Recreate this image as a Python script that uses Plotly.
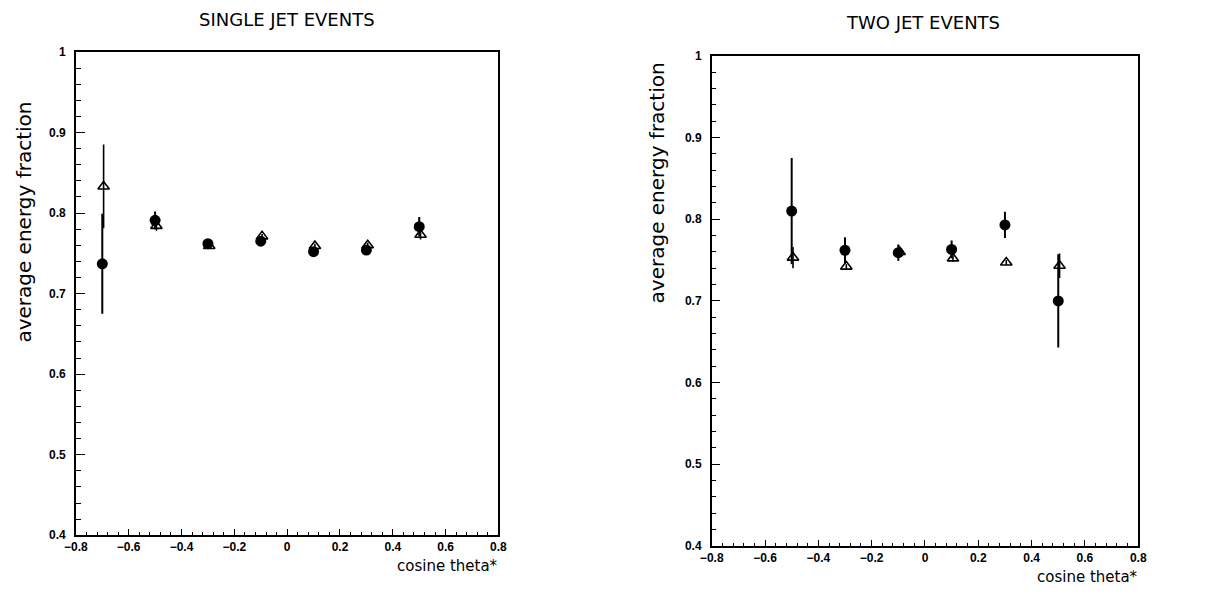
import plotly.graph_objects as go

# ---- data ----
single_x = [-0.7, -0.5, -0.3, -0.1, 0.1, 0.3, 0.5]
single_circ = [0.737, 0.791, 0.762, 0.765, 0.752, 0.754, 0.783]
single_circ_err = [0.062, 0.011, 0.004, 0.004, 0.004, 0.004, 0.012]
single_tri = [0.833, 0.784, 0.759, 0.771, 0.759, 0.760, 0.773]
single_tri_err = [0.052, 0.006, 0.003, 0.003, 0.003, 0.003, 0.006]

two_x = [-0.5, -0.3, -0.1, 0.1, 0.3, 0.5]
two_circ = [0.810, 0.762, 0.759, 0.763, 0.793, 0.700]
two_circ_err = [0.065, 0.016, 0.010, 0.011, 0.016, 0.057]
two_tri = [0.753, 0.742, 0.760, 0.752, 0.747, 0.743]
two_tri_err = [0.013, 0.003, 0.004, 0.004, 0.003, 0.015]

tri_shift = 0.005
x_ticks = [-0.8, -0.6, -0.4, -0.2, 0, 0.2, 0.4, 0.6, 0.8]
x_ticktext = ["\u22120.8", "\u22120.6", "\u22120.4", "\u22120.2", "0", "0.2", "0.4", "0.6", "0.8"]
y_ticks = [0.4, 0.5, 0.6, 0.7, 0.8, 0.9, 1.0]
y_ticktext = ["0.4", "0.5", "0.6", "0.7", "0.8", "0.9", "1"]

W, H = 1217, 594

fig = go.Figure()


def add_panel(xs, circ, circ_err, tri, tri_err, xa, ya):
    fig.add_trace(go.Scatter(
        x=xs, y=circ, mode="markers", xaxis=xa, yaxis=ya,
        marker=dict(symbol="circle", size=11, color="black"),
        error_y=dict(type="data", array=circ_err, color="black", thickness=2, width=0),
        showlegend=False))
    fig.add_trace(go.Scatter(
        x=[v + tri_shift for v in xs], y=tri, mode="markers", xaxis=xa, yaxis=ya,
        marker=dict(symbol="triangle-up-open", size=10, color="black", line=dict(width=1.6)),
        error_y=dict(type="data", array=tri_err, color="black", thickness=1.6, width=0),
        showlegend=False))


add_panel(single_x, single_circ, single_circ_err, single_tri, single_tri_err, "x", "y")
add_panel(two_x, two_circ, two_circ_err, two_tri, two_tri_err, "x2", "y2")

tick_font = dict(family="Liberation Sans, Arial, sans-serif", size=12, color="black", weight="bold")

xcommon = dict(range=[-0.8, 0.8], tickvals=x_ticks, ticktext=x_ticktext, ticks="inside",
               ticklen=6, tickwidth=1.2, tickcolor="black", showline=True, linecolor="black",
               linewidth=1.5, mirror=True, showgrid=False, zeroline=False, tickfont=tick_font,
               minor=dict(dtick=0.04, ticks="inside", ticklen=3, tickcolor="black", tickwidth=1,
                          showgrid=False))
ycommon = dict(range=[0.4, 1.0], tickvals=y_ticks, ticktext=y_ticktext, ticks="inside",
               ticklen=9, tickwidth=1.2, tickcolor="black", showline=True, linecolor="black",
               linewidth=1.5, mirror=True, showgrid=False, zeroline=False, tickfont=tick_font,
               ticklabelstandoff=6,
               minor=dict(dtick=0.02, ticks="inside", ticklen=5, tickcolor="black", tickwidth=1,
                          showgrid=False))

fig.update_layout(
    width=W, height=H,
    margin=dict(l=0, r=0, t=0, b=0),
    paper_bgcolor="white", plot_bgcolor="white",
    xaxis=dict(domain=[65 / W, 495 / W], anchor="y", **xcommon),
    yaxis=dict(domain=[1 - 541 / H, 1 - 46 / H], anchor="x", **ycommon),
    xaxis2=dict(domain=[712 / W, 1146 / W], anchor="y2", **xcommon),
    yaxis2=dict(domain=[1 - 552 / H, 1 - 50 / H], anchor="x2", **ycommon),
)

lab_font = dict(family="DejaVu Sans, sans-serif", size=20, color="black")
x_lab_font = dict(family="DejaVu Sans, sans-serif", size=15, color="black")
title_font = dict(family="DejaVu Sans, sans-serif", size=18, color="black")

annotations = [
    dict(text="SINGLE JET EVENTS", x=280 / W, y=1 - 13 / H, font=title_font),
    dict(text="TWO JET EVENTS", x=927 / W, y=1 - 16 / H, font=title_font),
    dict(text="average energy fraction", x=12 / W, y=1 - 220 / H, textangle=-90, font=lab_font),
    dict(text="average energy fraction", x=656 / W, y=1 - 180 / H, textangle=-90, font=lab_font),
    dict(text="cosine theta*", x=497 / W, y=1 - 572 / H, xanchor="right", font=x_lab_font),
    dict(text="cosine theta*", x=1148 / W, y=1 - 584 / H, xanchor="right", font=x_lab_font),
]
for a in annotations:
    a.setdefault("xanchor", "center")
    fig.add_annotation(xref="paper", yref="paper", showarrow=False, yanchor="middle", **a)

fig.write_html("out.html")
